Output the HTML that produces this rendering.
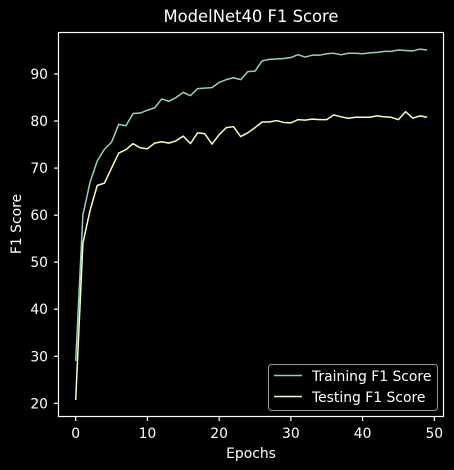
<!DOCTYPE html>
<html><head><meta charset="utf-8"><style>
html,body{margin:0;padding:0;background:#000;}
svg{display:block;font-family:"DejaVu Sans","Liberation Sans",sans-serif;}
</style></head><body>
<svg id="chart" width="454" height="470" xmlns="http://www.w3.org/2000/svg">
<rect width="454" height="470" fill="#000"/>
<text x="251" y="22" fill="#fff" font-size="16.4" text-anchor="middle">ModelNet40 F1 Score</text>
<g id="lines"></g>
<rect x="58.5" y="32.5" width="385" height="384" fill="none" stroke="#fff" stroke-width="1.2"/>
<g id="ticks"></g>
<text x="251" y="458" fill="#fff" font-size="13.9" text-anchor="middle">Epochs</text>
<text transform="translate(21,224) rotate(-90)" fill="#fff" font-size="13.9" text-anchor="middle">F1 Score</text>
<g>
<rect x="268.5" y="364.5" width="169" height="46" rx="3" fill="#000" stroke="#999" stroke-width="1"/>
<line x1="274" y1="375.5" x2="302" y2="375.5" stroke="#8dd3c7" stroke-width="1.5"/>
<text x="312" y="381" fill="#fff" font-size="13.9">Training F1 Score</text>
<line x1="274" y1="396.5" x2="302" y2="396.5" stroke="#feffb3" stroke-width="1.5"/>
<text x="312" y="402" fill="#fff" font-size="13.9">Testing F1 Score</text>
</g>
</svg>
<script>
const epochs = Array.from({length:50},(_,i)=>i);
const trainF1 = [29,60,67,71.5,74,75.5,79.3,79,81.6,81.7,82.3,82.8,84.7,84.2,85,86.1,85.4,86.9,87,87.1,88.2,88.8,89.2,88.8,90.5,90.6,92.8,93.1,93.2,93.3,93.5,94.1,93.6,94,94,94.3,94.4,94.1,94.4,94.4,94.3,94.5,94.6,94.8,94.8,95.1,95,94.9,95.3,95.1];
const testF1 = [20.7,54,61,66.3,66.8,70,73.2,73.9,75.2,74.3,74.1,75.3,75.6,75.3,75.8,76.8,75.2,77.5,77.3,75.1,77.1,78.6,78.8,76.7,77.5,78.6,79.8,79.8,80.1,79.7,79.6,80.3,80.2,80.4,80.3,80.3,81.3,80.9,80.6,80.8,80.8,80.8,81.1,80.9,80.8,80.3,82,80.6,81.1,80.8];
const xTicks = [0,10,20,30,40,50];
const yTicks = [20,30,40,50,60,70,80,90];

const NS="http://www.w3.org/2000/svg";
const xs = v => 75.7 + v*(434.3-75.7)/50;
const ys = v => 403.3 - (v-20)*(403.3-74)/70;
const ticks=document.getElementById('ticks');
const lines=document.getElementById('lines');
function mk(tag,attrs,parent){const e=document.createElementNS(NS,tag);for(const k in attrs)e.setAttribute(k,attrs[k]);parent.appendChild(e);return e;}
xTicks.forEach(t=>{
  const l=mk('line',{x1:xs(t),x2:xs(t),y1:417,y2:421,stroke:'#fff','stroke-width':1.2},ticks);
  
  
  const tx=mk('text',{x:xs(t),y:438,fill:'#fff','font-size':13.9,'text-anchor':'middle'},ticks);
  tx.textContent=t;
  
  
});
yTicks.forEach(t=>{
  const l=mk('line',{x1:54,x2:58.5,y1:ys(t),y2:ys(t),stroke:'#fff','stroke-width':1.2},ticks);
  
  
  const tx=mk('text',{x:48,y:ys(t)+5,fill:'#fff','font-size':13.9,'text-anchor':'end'},ticks);
  tx.textContent=t;
  
  
});
function series(vals,color,name){
  const d=vals.map((v,i)=>(i?'L':'M')+xs(epochs[i]).toFixed(2)+','+ys(v).toFixed(2)).join('');
  const p=mk('path',{d:d,fill:'none',stroke:color,'stroke-width':1.5,'stroke-linejoin':'round'},lines);
  
  
}
series(trainF1,'#8dd3c7','training-f1-line');
series(testF1,'#feffb3','testing-f1-line');
</script>
</body></html>
